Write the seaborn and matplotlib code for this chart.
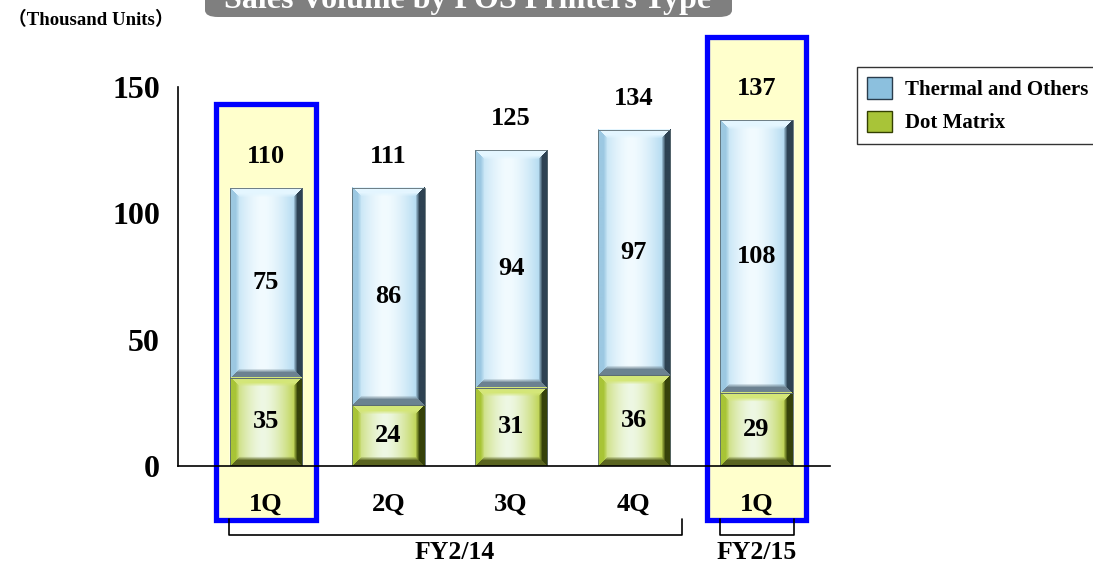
import numpy as np
import pandas as pd
import seaborn as sns
import matplotlib.pyplot as plt
from matplotlib.patches import Rectangle, FancyBboxPatch, Patch

# data (thousand units)
quarters = ["1Q", "2Q", "3Q", "4Q", "1Q"]
keys = ["FY14 1Q", "FY14 2Q", "FY14 3Q", "FY14 4Q", "FY15 1Q"]
dot_matrix = [35, 24, 31, 36, 29]
thermal = [75, 86, 94, 97, 108]
totals = [110, 111, 125, 134, 137]
years = ["FY2/14", "FY2/15"]

sns.set_style("white")
plt.rcParams["font.family"] = ["Liberation Serif", "Noto Sans CJK JP", "DejaVu Sans"]
plt.rcParams["font.weight"] = "bold"
plt.rcParams["text.color"] = "black"
plt.rcParams["xtick.color"] = "black"
plt.rcParams["ytick.color"] = "black"
plt.rcParams["axes.labelcolor"] = "black"

df = pd.DataFrame({"q": keys, "dot": dot_matrix, "thermal": thermal})
df["stack"] = df["dot"] + df["thermal"]

fig = plt.figure(figsize=(10.93, 5.65), dpi=100)
ax = fig.add_axes([178 / 1093, 99 / 565, 652 / 1093, 379 / 565])

XMIN, XMAX = -0.717, 4.6
PX_PER_Y = 379 / 150
BW = 0.59

# highlight boxes behind the selected quarters
for i, top in [(0, 143.3), (4, 169.8)]:
    ax.add_patch(Rectangle((i - 0.407, -21.4), 0.814, top + 21.4, facecolor="#ffffcc",
                           edgecolor="#0000ff", linewidth=3.8, clip_on=False, zorder=0.5))

sns.barplot(data=df, x="q", y="stack", order=keys, color="#bfe3f5", width=BW,
            saturation=1, ax=ax, zorder=1)
sns.barplot(data=df, x="q", y="dot", order=keys, color="#c8dc70", width=BW,
            saturation=1, ax=ax, zorder=1)


def bevel(h, w, edge, mid, left, right, top, bottom, b=9):
    yy, xx = np.mgrid[0:h, 0:w].astype(float)
    d = np.stack([xx, w - 1 - xx, yy, h - 1 - yy])
    idx = d.argmin(0)
    dmin = d.min(0)
    side = np.array([left, right, top, bottom])[idx]
    t = np.abs(xx - (w - 1) * 0.45) / ((w - 1) / 2)
    t = np.clip(t, 0, 1) ** 1.6
    cen = np.array(mid) * (1 - t[..., None]) + np.array(edge) * t[..., None]
    f = np.clip((dmin - (b - 4)) / 4, 0, 1)[..., None]
    return side * (1 - f) + cen * f


def c(hexs):
    hexs = hexs.lstrip("#")
    return [int(hexs[k:k + 2], 16) / 255 for k in (0, 2, 4)]


th_cols = dict(edge=c("#a6d4ee"), mid=c("#f2fbff"), left=c("#9cc8e2"), right=c("#2e4252"),
               top=c("#e4f6ff"), bottom=c("#6c8290"))
dm_cols = dict(edge=c("#b4cc34"), mid=c("#eef8e4"), left=c("#a8c436"), right=c("#36420a"),
               top=c("#d4e678"), bottom=c("#5a6420"))

for i in range(len(keys)):
    x0, x1 = i - BW / 2, i + BW / 2
    d, s = dot_matrix[i], dot_matrix[i] + thermal[i]
    for lo, hi, cols in [(d, s, th_cols), (0, d, dm_cols)]:
        h = max(int(round((hi - lo) * PX_PER_Y)), 20)
        img = bevel(h, 73, **cols)
        ax.imshow(img, extent=[x0, x1, lo, hi], aspect="auto", origin="upper",
                  interpolation="bilinear", zorder=2)
        ax.add_patch(Rectangle((x0, lo), BW, hi - lo, fill=False, edgecolor="#5a6a70",
                               linewidth=0.6, zorder=2.2))
    ax.text(i, d / 2, str(d), ha="center", va="center", fontsize=19, fontweight="bold", zorder=3)
    ax.text(i, d + thermal[i] / 2, str(thermal[i]), ha="center", va="center", fontsize=19,
            fontweight="bold", zorder=3)
    ax.text(i, s + 12.5, str(totals[i]), ha="center", va="center", fontsize=19,
            fontweight="bold", zorder=3)

ax.set_xlim(XMIN, XMAX)
ax.set_ylim(0, 150)
ax.set_xlabel("")
ax.set_ylabel("")
ax.set_yticks([0, 50, 100, 150])
ax.set_yticklabels(["0", "50", "100", "150"], fontsize=23, fontweight="bold")
ax.set_xticks(range(len(keys)))
ax.set_xticklabels(quarters, fontsize=19, fontweight="bold")
ax.tick_params(axis="x", length=0, pad=19)
ax.tick_params(axis="y", direction="in", length=21, width=1.2, pad=13)
for side in ["top", "right"]:
    ax.spines[side].set_visible(False)
ax.spines["left"].set_linewidth(1.2)
ax.spines["bottom"].set_linewidth(1.2)
ax.spines["left"].set_color("black")
ax.spines["bottom"].set_color("black")
ax.spines["bottom"].set_zorder(4)

# fiscal year brackets
for (a, b_), xc, lab in zip([(-0.30, 3.39), (3.70, 4.31)], [1.54, 4.0], years):
    ax.plot([a, a, b_, b_], [-21.0, -27.4, -27.4, -21.0], color="black", lw=1.2,
            clip_on=False)
    ax.text(xc, -34.3, lab, ha="center", va="center", fontsize=18.5, fontweight="bold")

# title banner (cut at top edge, as in the source slide)
fig.patches.append(FancyBboxPatch((205 / 1093, 548 / 565), 527 / 1093, 40 / 565,
                                  boxstyle="round,pad=0,rounding_size=0.012",
                                  transform=fig.transFigure, facecolor="#7f7f7f",
                                  edgecolor="none"))
fig.text(468 / 1093, 557 / 565, "Sales Volume by POS Printers Type", ha="center",
         va="baseline", color="white", fontsize=23, fontweight="bold")
fig.text(8 / 1093, 545 / 565, "（Thousand Units）", ha="left", va="center", fontsize=13.5,
         fontweight="bold")

handles = [Patch(facecolor="#8cc0de", edgecolor="#2a3c4c", label="Thermal and Others"),
           Patch(facecolor="#a8c438", edgecolor="#333f00", label="Dot Matrix")]
leg = fig.legend(handles=handles, loc="upper left", bbox_to_anchor=(857 / 1093, 1 - 67 / 565),
                 frameon=True, fancybox=False, edgecolor="black", borderaxespad=0,
                 handlelength=1.2, handleheight=1.2, handletextpad=0.6, labelspacing=0.5,
                 borderpad=0.5, prop={"weight": "bold", "size": 15})
leg.get_frame().set_linewidth(1.0)

fig.savefig("out.png", dpi=100)
